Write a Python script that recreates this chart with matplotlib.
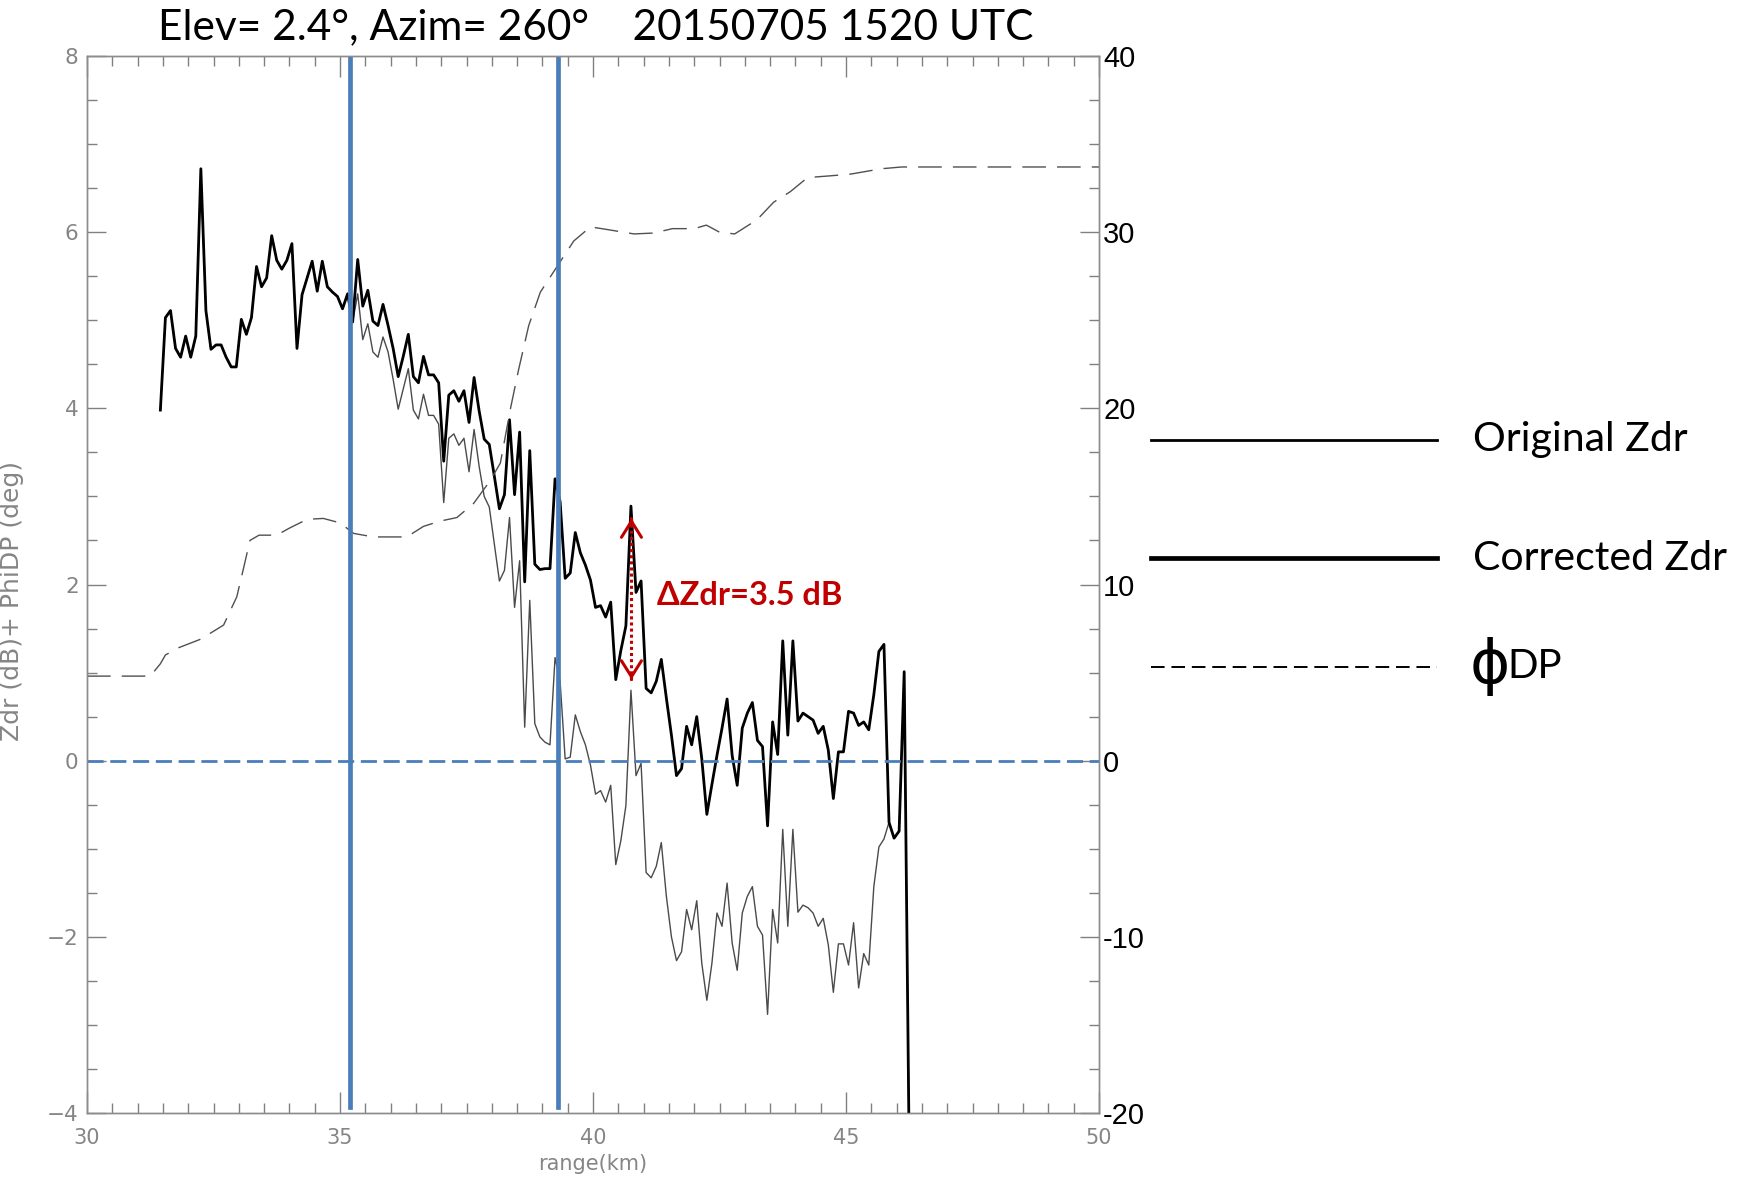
import numpy as np
import matplotlib
matplotlib.use("Agg")
import matplotlib.pyplot as plt
from matplotlib.lines import Line2D
from matplotlib.ticker import MultipleLocator, FuncFormatter

plt.rcParams['font.family'] = ['Lato', 'DejaVu Sans']

# -------- ray data (0.1 km gates) --------
gate_start_km = 31.45
gate_step_km = 0.1

corrected_zdr = [
    3.98, 5.03, 5.11, 4.68, 4.58, 4.82, 4.58, 4.82, 6.72, 5.11,
    4.67, 4.72, 4.72, 4.58, 4.47, 4.47, 5.01, 4.84, 5.03, 5.61,
    5.38, 5.48, 5.96, 5.68, 5.58, 5.68, 5.87, 4.68, 5.29, 5.48,
    5.67, 5.33, 5.67, 5.38, 5.32, 5.27, 5.13, 5.30, 4.98, 5.69,
    5.16, 5.34, 4.99, 4.94, 5.18, 4.94, 4.68, 4.36, 4.59, 4.84,
    4.36, 4.29, 4.59, 4.38, 4.38, 4.29, 3.40, 4.15, 4.20, 4.08,
    4.20, 3.84, 4.35, 3.97, 3.65, 3.59, 3.23, 2.86, 3.02, 3.87,
    3.02, 3.73, 2.03, 3.52, 2.23, 2.17, 2.18, 2.18, 3.20, 2.94,
    2.07, 2.13, 2.59, 2.36, 2.22, 2.05, 1.74, 1.76, 1.63, 1.80,
    0.92, 1.25, 1.53, 2.89, 1.91, 2.04, 0.82, 0.77, 0.90, 1.15,
    0.71, 0.29, -0.17, -0.09, 0.39, 0.18, 0.50, 0.02, -0.61, -0.27,
    0.06, 0.37, 0.70, 0.06, -0.28, 0.37, 0.54, 0.66, 0.23, 0.16,
    -0.74, 0.44, 0.07, 1.36, 0.29, 1.36, 0.45, 0.54, 0.50, 0.46,
    0.31, 0.39, 0.12, -0.43, 0.10, 0.10, 0.56, 0.54, 0.40, 0.44,
    0.35, 0.75, 1.24, 1.32, -0.70, -0.88, -0.80, 1.01, -4.5,
]

original_zdr = [
    3.98, 5.03, 5.11, 4.68, 4.58, 4.82, 4.58, 4.82, 6.72, 5.11,
    4.67, 4.72, 4.72, 4.58, 4.47, 4.47, 5.01, 4.84, 5.03, 5.61,
    5.38, 5.48, 5.96, 5.68, 5.58, 5.68, 5.87, 4.68, 5.29, 5.48,
    5.67, 5.33, 5.67, 5.38, 5.32, 5.27, 5.13, 5.30, 4.98, 5.30,
    4.78, 4.96, 4.64, 4.58, 4.81, 4.64, 4.33, 3.99, 4.22, 4.45,
    3.98, 3.88, 4.16, 3.92, 3.92, 3.82, 2.93, 3.66, 3.71, 3.58,
    3.66, 3.28, 3.76, 3.34, 3.00, 2.88, 2.46, 2.04, 2.16, 2.76,
    1.74, 2.27, 0.38, 1.82, 0.42, 0.27, 0.21, 0.18, 1.17, 0.90,
    0.02, 0.04, 0.52, 0.33, 0.18, -0.05, -0.38, -0.34, -0.47, -0.28,
    -1.18, -0.91, -0.51, 0.80, -0.17, -0.03, -1.27, -1.33, -1.20, -0.93,
    -1.54, -2.00, -2.27, -2.17, -1.69, -1.92, -1.59, -2.30, -2.72, -2.30,
    -1.73, -1.88, -1.39, -2.07, -2.38, -1.73, -1.54, -1.43, -1.88, -1.98,
    -2.88, -1.69, -2.07, -0.78, -1.88, -0.78, -1.72, -1.64, -1.67, -1.73,
    -1.88, -1.79, -2.09, -2.63, -2.08, -2.08, -2.32, -1.84, -2.58, -2.19,
    -2.32, -1.43, -0.98, -0.89, -0.70, -0.88, -0.80, 1.01, -4.5,
]

phidp_range = [30.0, 31.25, 31.45, 31.55, 31.8, 32.25, 32.7, 32.96, 33.1, 33.22,
               33.4, 33.75, 34.0, 34.35, 34.67, 35.0, 35.27, 35.66, 36.32, 36.65,
               36.98, 37.31, 37.64, 37.97, 38.17, 38.37, 38.53, 38.73, 38.96, 39.29,
               39.62, 39.95, 40.28, 40.81, 41.2, 41.57, 42.0, 42.24, 42.5, 42.8,
               43.24, 43.57, 43.9, 44.24, 44.7, 45.1, 45.7, 46.1, 50.0]
phidp_deg = [4.8, 4.8, 5.5, 6.0, 6.4, 6.9, 7.7, 9.3, 11.0, 12.5,
             12.8, 12.8, 13.2, 13.7, 13.75, 13.5, 12.9, 12.7, 12.7, 13.3,
             13.6, 13.8, 14.6, 15.9, 16.9, 20.0, 22.2, 24.7, 26.6, 28.05,
             29.5, 30.3, 30.15, 29.9, 29.95, 30.2, 30.2, 30.4, 30.0, 29.9,
             30.7, 31.7, 32.3, 33.1, 33.2, 33.3, 33.6, 33.7, 33.7]

# attenuation segment boundaries (km)
segment_edges = [35.2, 39.3]

# dZdr marker at the spike
arrow_range = 40.76
arrow_low, arrow_high = 0.92, 2.75
delta_label = 'ΔZdr=3.5 dB'

title = 'Elev= 2.4°, Azim= 260°    20150705 1520 UTC'
legend_labels = ['Original Zdr', 'Corrected Zdr', 'DP']

range_km = gate_start_km + gate_step_km * np.arange(len(corrected_zdr))

GRAY = '#808080'
LABEL_GRAY = '#858585'
BLUE = '#4a7ebb'
RED = '#c00000'
AXFONT = ['DejaVu Sans']

W, H = 1756, 1179
fig = plt.figure(figsize=(W / 100, H / 100), dpi=100)
ax = fig.add_axes([87 / W, 1 - 1113 / H, 1012 / W, 1057 / H])
ax2 = ax.twinx()

# -------- curves --------
ax.plot(range_km, original_zdr, color='#4a4a4a', lw=1.0, zorder=2)
ax.plot(range_km, corrected_zdr, color='black', lw=2.0, zorder=3)
ax2.plot(phidp_range, phidp_deg, color='#505050', lw=1.0, dashes=(17, 8))

for edge in segment_edges:
    ax2.axvline(edge, ymin=0.006, ymax=1, color=BLUE, lw=3.4)
ax2.axhline(0, color=BLUE, lw=2.0, dashes=(5.8, 2.4))

# dotted double arrow with open heads
ax.plot([arrow_range, arrow_range], [arrow_low, arrow_high], color=RED,
        lw=2.2, linestyle=(0, (1, 1)), zorder=5)
for tip, back in [(arrow_high, arrow_high - 0.01), (arrow_low, arrow_low + 0.01)]:
    ax.annotate('', xy=(arrow_range, tip), xytext=(arrow_range, back),
                arrowprops=dict(arrowstyle='->,head_length=1.15,head_width=0.72',
                                color=RED, lw=2.2, shrinkA=0, shrinkB=0,
                                mutation_scale=10), zorder=6)
ax.text(41.27, 1.87, delta_label, color=RED, fontsize=23.5, fontweight='bold',
        ha='left', va='center', zorder=6)

# -------- axes --------
ax.set_xlim(30, 50)
ax.set_ylim(-4, 8)
ax2.set_ylim(-20, 40)

ax.xaxis.set_major_locator(MultipleLocator(5))
ax.xaxis.set_minor_locator(MultipleLocator(0.5))
ax.yaxis.set_major_locator(MultipleLocator(2))
ax.yaxis.set_minor_locator(MultipleLocator(0.5))
ax2.yaxis.set_major_locator(MultipleLocator(10))
ax2.yaxis.set_minor_locator(MultipleLocator(2.5))
ax2.yaxis.set_major_formatter(FuncFormatter(lambda v, p: f'{v:.0f}'))

for a in (ax, ax2):
    for s in a.spines.values():
        s.set_color('#8c8c8c')
        s.set_linewidth(1.0)

ax.tick_params(axis='both', which='both', direction='in', color=GRAY, width=1.0)
ax.tick_params(axis='x', which='both', top=True, bottom=True)
ax.tick_params(axis='x', which='major', length=15, pad=11, labelsize=15,
               labelcolor=LABEL_GRAY, labelfontfamily=AXFONT)
ax.tick_params(axis='x', which='minor', length=7)
ax.tick_params(axis='y', which='both', left=True, right=False)
ax.tick_params(axis='y', which='major', length=14, pad=6, labelsize=15.5,
               labelcolor=LABEL_GRAY, labelfontfamily=AXFONT)
ax.tick_params(axis='y', which='minor', length=7)

ax2.tick_params(axis='y', which='both', direction='in', color=GRAY, width=1.0)
ax2.tick_params(axis='y', which='major', length=14, pad=3, labelsize=21,
                labelcolor='black', labelfontfamily=['Liberation Sans', 'DejaVu Sans'])
ax2.tick_params(axis='y', which='minor', length=7)

ax.set_xlabel('range(km)', color=LABEL_GRAY, fontsize=15, family=AXFONT, labelpad=4)
ax.set_ylabel('Zdr (dB)+ PhiDP (deg)', color=LABEL_GRAY, fontsize=18, family=AXFONT)
ax.yaxis.set_label_coords(-0.062, 0.484)

fig.text(596 / W, 1 - 27 / H, title, ha='center', va='center', fontsize=30.5)

# -------- legend --------
legend_styles = [
    dict(color='black', lw=2.0),
    dict(color='black', lw=3.4),
    dict(color='black', lw=1.4, dashes=(7, 3.5)),
]
legend_rows = [440, 558, 667]
for label, style, y in zip(legend_labels, legend_styles, legend_rows):
    fig.add_artist(Line2D([1151 / W, 1437 / W], [1 - y / H, 1 - y / H],
                          transform=fig.transFigure, **style))
    if label == 'DP':
        phi = fig.text(1470 / W, 1 - y / H, 'ϕ', fontsize=44, ha='left', va='center',
                       family=['DejaVu Sans'])
        ax.annotate(label, xy=(1, 0.5), xycoords=phi, xytext=(-2.5, 0),
                    textcoords='offset points', fontsize=29, ha='left', va='center',
                    annotation_clip=False)
    else:
        fig.text(1473 / W, 1 - y / H, label, fontsize=29.5, ha='left', va='center')

fig.savefig('out.png', dpi=100)
